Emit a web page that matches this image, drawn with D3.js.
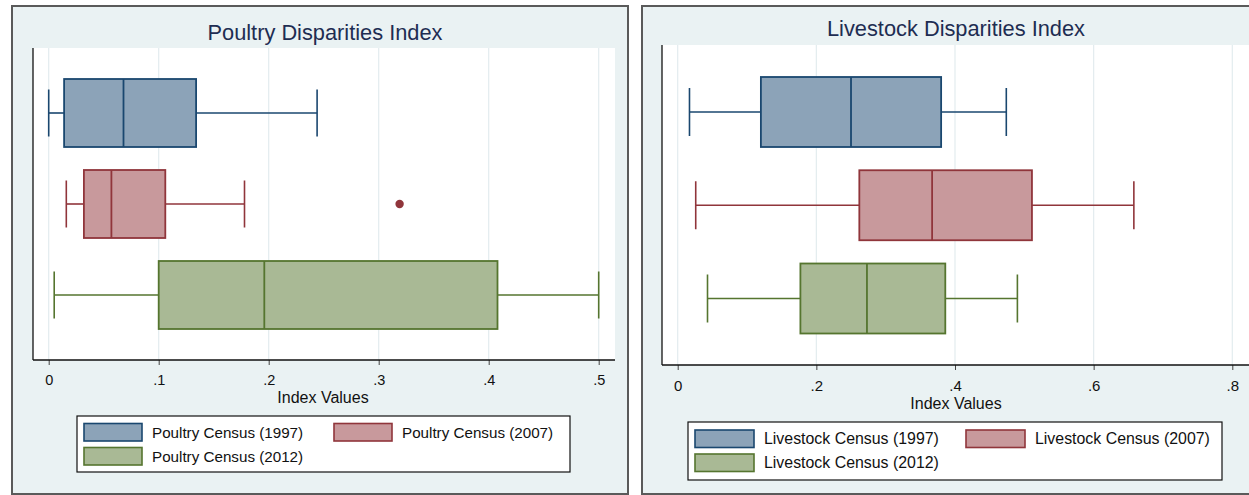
<!DOCTYPE html>
<html>
<head>
<meta charset="utf-8">
<script src="https://cdn.jsdelivr.net/npm/d3@7"></script>
<style>
  html, body { margin: 0; padding: 0; background: #ffffff; }
  svg { display: block; font-family: "Liberation Sans", Arial, sans-serif; }
</style>
</head>
<body>
<svg id="chart" width="1249" height="495"></svg>
<script>
// ---------- DATA ----------
const poultryCategories = ["Poultry Census (1997)", "Poultry Census (2007)", "Poultry Census (2012)"];
const poultryLow    = [0.000, 0.016, 0.005];
const poultryQ1     = [0.014, 0.032, 0.100];
const poultryMedian = [0.068, 0.057, 0.196];
const poultryQ3     = [0.134, 0.106, 0.408];
const poultryHigh   = [0.244, 0.178, 0.500];
const poultryOutliers = [[], [0.319], []];
const poultryTicks = [0, 0.1, 0.2, 0.3, 0.4, 0.5];
const poultryTickLabels = ["0", ".1", ".2", ".3", ".4", ".5"];

const livestockCategories = ["Livestock Census (1997)", "Livestock Census (2007)", "Livestock Census (2012)"];
const livestockLow    = [0.017, 0.026, 0.043];
const livestockQ1     = [0.120, 0.262, 0.177];
const livestockMedian = [0.250, 0.367, 0.273];
const livestockQ3     = [0.380, 0.511, 0.386];
const livestockHigh   = [0.474, 0.658, 0.490];
const livestockOutliers = [[], [], []];
const livestockTicks = [0, 0.2, 0.4, 0.6, 0.8];
const livestockTickLabels = ["0", ".2", ".4", ".6", ".8"];

const seriesFill   = ["#8ca3b8", "#c8999c", "#a9b995"];
const seriesStroke = ["#1a476f", "#90353b", "#55752f"];

// ---------- DRAW ----------
const svg = d3.select("#chart");

function panel(cfg) {
  const g = svg.append("g");
  // frame
  g.append("rect")
    .attr("x", cfg.frame[0]).attr("y", cfg.frame[1])
    .attr("width", cfg.frame[2] - cfg.frame[0]).attr("height", cfg.frame[3] - cfg.frame[1])
    .attr("fill", "#eaf2f3").attr("stroke", "#5a5a5a").attr("stroke-width", 2);
  // plot region
  g.append("rect")
    .attr("x", cfg.plot[0]).attr("y", cfg.plot[1])
    .attr("width", cfg.plot[2] - cfg.plot[0]).attr("height", cfg.plot[3] - cfg.plot[1])
    .attr("fill", "#ffffff");

  const x = d3.scaleLinear().domain(cfg.domain).range(cfg.xRange);
  const y = d3.scalePoint().domain(cfg.categories).range(cfg.yRange);

  // gridlines
  g.selectAll(".grid").data(cfg.ticks).join("line")
    .attr("x1", d => x(d)).attr("x2", d => x(d))
    .attr("y1", cfg.plot[1]).attr("y2", cfg.plot[3])
    .attr("stroke", "#e3ecef").attr("stroke-width", 1.2);

  // axes
  const xAxis = d3.axisBottom(x).tickValues(cfg.ticks)
    .tickFormat((d, i) => cfg.tickLabels[i]).tickSize(5).tickPadding(cfg.tickPad);
  const ax = g.append("g").attr("transform", `translate(0,${cfg.plot[3]})`).call(xAxis);
  ax.select(".domain").remove();
  ax.selectAll(".tick line").attr("stroke", "#444");
  ax.selectAll(".tick text").attr("font-size", cfg.tickFs).attr("fill", "#111")
    .attr("font-family", "Liberation Sans, Arial, sans-serif");
  g.append("line")
    .attr("x1", cfg.plot[0]).attr("x2", cfg.plot[2])
    .attr("y1", cfg.plot[3]).attr("y2", cfg.plot[3])
    .attr("stroke", "#111").attr("stroke-width", 1.3);
  g.append("line")
    .attr("x1", cfg.plot[0]).attr("x2", cfg.plot[0])
    .attr("y1", cfg.plot[1]).attr("y2", cfg.plot[3])
    .attr("stroke", "#111").attr("stroke-width", 1.3);

  // boxes
  cfg.categories.forEach((c, i) => {
    const cy = y(c);
    const bh = cfg.boxH, ch = cfg.capH;
    const col = seriesStroke[i];
    const bg = g.append("g");
    // whiskers
    bg.append("line").attr("x1", x(cfg.low[i])).attr("x2", x(cfg.q1[i]))
      .attr("y1", cy).attr("y2", cy).attr("stroke", col).attr("stroke-width", 1.6);
    bg.append("line").attr("x1", x(cfg.q3[i])).attr("x2", x(cfg.high[i]))
      .attr("y1", cy).attr("y2", cy).attr("stroke", col).attr("stroke-width", 1.6);
    bg.append("line").attr("x1", x(cfg.low[i])).attr("x2", x(cfg.low[i]))
      .attr("y1", cy - ch / 2).attr("y2", cy + ch / 2).attr("stroke", col).attr("stroke-width", 1.6);
    bg.append("line").attr("x1", x(cfg.high[i])).attr("x2", x(cfg.high[i]))
      .attr("y1", cy - ch / 2).attr("y2", cy + ch / 2).attr("stroke", col).attr("stroke-width", 1.6);
    // box
    bg.append("rect").attr("x", x(cfg.q1[i])).attr("y", cy - bh / 2)
      .attr("width", x(cfg.q3[i]) - x(cfg.q1[i])).attr("height", bh)
      .attr("fill", seriesFill[i]).attr("stroke", col).attr("stroke-width", 1.8);
    bg.append("line").attr("x1", x(cfg.med[i])).attr("x2", x(cfg.med[i]))
      .attr("y1", cy - bh / 2).attr("y2", cy + bh / 2).attr("stroke", col).attr("stroke-width", 1.8);
    // outliers
    bg.selectAll("circle").data(cfg.outliers[i]).join("circle")
      .attr("cx", d => x(d)).attr("cy", cy).attr("r", 4.2)
      .attr("fill", col);
  });

  // title
  g.append("text").attr("x", cfg.titlePos[0]).attr("y", cfg.titlePos[1])
    .attr("text-anchor", "middle").attr("dominant-baseline", "central")
    .attr("font-size", cfg.titleFs).attr("fill", "#1e2d52").text(cfg.title);
  // axis title
  g.append("text").attr("x", cfg.axisTitlePos[0]).attr("y", cfg.axisTitlePos[1])
    .attr("text-anchor", "middle").attr("dominant-baseline", "central")
    .attr("font-size", cfg.axisFs).attr("fill", "#111").text("Index Values");

  // legend
  const L = cfg.legend;
  g.append("rect").attr("x", L.box[0]).attr("y", L.box[1])
    .attr("width", L.box[2] - L.box[0]).attr("height", L.box[3] - L.box[1])
    .attr("fill", "#ffffff").attr("stroke", "#111").attr("stroke-width", 1.2);
  cfg.categories.forEach((c, i) => {
    const sx = L.colX[i % 2], sy = L.rowY[Math.floor(i / 2)];
    g.append("rect").attr("x", sx).attr("y", sy).attr("width", L.sw).attr("height", L.sh)
      .attr("fill", seriesFill[i]).attr("stroke", seriesStroke[i]).attr("stroke-width", 1.6);
    g.append("text").attr("x", sx + L.sw + L.gap).attr("y", sy + L.sh / 2)
      .attr("dominant-baseline", "central").attr("font-size", L.fs).attr("fill", "#111").text(c);
  });
}

panel({
  frame: [12, 6, 628, 494],
  plot: [33, 48, 615, 360],
  domain: [0, 0.5], xRange: [48.7, 598.7],
  categories: poultryCategories, yRange: [113, 295],
  boxH: 68, capH: 47,
  low: poultryLow, q1: poultryQ1, med: poultryMedian, q3: poultryQ3, high: poultryHigh,
  outliers: poultryOutliers,
  ticks: poultryTicks, tickLabels: poultryTickLabels,
  tickFs: 14.5, tickPad: 10, axisFs: 16,
  title: "Poultry Disparities Index", titlePos: [325, 32], titleFs: 21.8,
  axisTitlePos: [323, 397],
  legend: { box: [77, 416, 570, 472], colX: [84, 334], rowY: [423.5, 447.5], sw: 58, sh: 17.5, gap: 10, fs: 15.2 }
});

panel({
  frame: [642, 6, 1252, 494],
  plot: [662, 45, 1249, 365],
  domain: [0, 0.8], xRange: [677.7, 1232.3],
  categories: livestockCategories, yRange: [112, 298.5],
  boxH: 70, capH: 48,
  low: livestockLow, q1: livestockQ1, med: livestockMedian, q3: livestockQ3, high: livestockHigh,
  outliers: livestockOutliers,
  ticks: livestockTicks, tickLabels: livestockTickLabels,
  tickFs: 15, tickPad: 10.5, axisFs: 16,
  title: "Livestock Disparities Index", titlePos: [956, 28], titleFs: 21.8,
  axisTitlePos: [956, 403],
  legend: { box: [688, 422, 1222, 480], colX: [695, 966], rowY: [430, 454], sw: 59, sh: 17.5, gap: 10, fs: 15.9 }
});
</script>
</body>
</html>
